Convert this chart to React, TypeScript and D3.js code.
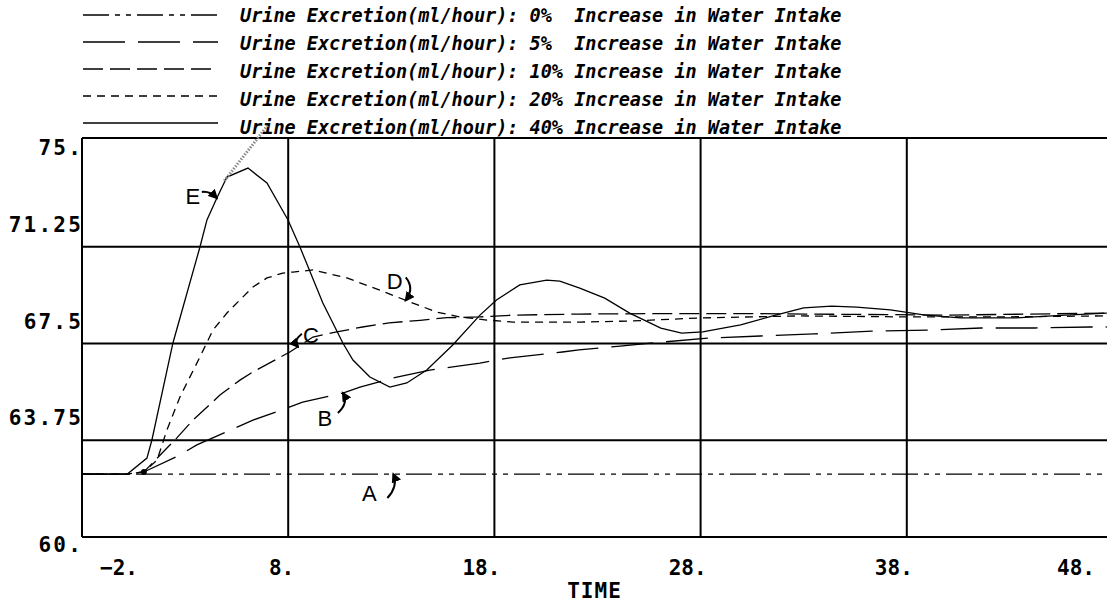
import React from 'react';
import * as d3 from 'd3';

// axis ticks as printed on the plot
const xTicks = [-2, 8, 18, 28, 38, 48];
const xTickLabels = ['−2.', '8.', '18.', '28.', '38.', '48.'];
const yTicks = [60, 63.75, 67.5, 71.25, 75];
const yTickLabels = ['60.', '63.75', '67.5', '71.25', '75.'];

// legend: one row per water-intake increase
const intakeLevels = ['0%  ', '5%  ', '10% ', '20% ', '40% '];
const curveLetters = ['A', 'B', 'C', 'D', 'E'];

// urine excretion (ml/hour) against time
const curveA: [number, number][] = [[-2, 62.44], [47.7, 62.44]];
const curveB: [number, number][] = [
  [-2, 62.44], [0.2, 62.44], [1.0, 62.52], [2.75, 63.18], [3.57, 63.57], [5.32, 64.19],
  [6.29, 64.53], [7.94, 65.0], [8.7, 65.23], [10.65, 65.58], [11.48, 65.81], [13.27, 66.2],
  [14.87, 66.47], [15.98, 66.59], [17.3, 66.74], [18.1, 66.86], [18.75, 66.94], [21.3, 67.17],
  [22.1, 67.25], [24.1, 67.4], [26.2, 67.56], [28.4, 67.71], [30.9, 67.79], [33.5, 67.87],
  [36.3, 67.98], [39.0, 68.02], [41.6, 68.1], [44.2, 68.1], [46.9, 68.14], [47.7, 68.14],
];
const curveC: [number, number][] = [
  [-2, 62.44], [0.2, 62.44], [1.0, 62.52], [2.12, 63.45], [2.6, 63.84], [3.38, 64.53],
  [4.69, 65.5], [5.66, 66.08], [6.29, 66.4], [8.08, 67.17], [9.2, 67.75], [10.36, 67.95],
  [11.6, 68.14], [12.9, 68.3], [14.4, 68.4], [15.7, 68.5], [17.3, 68.53], [18.9, 68.6],
  [22.1, 68.64], [26.0, 68.66], [30.0, 68.66], [35.0, 68.63], [40.0, 68.6], [44.0, 68.64],
  [47.7, 68.68],
];
const curveD: [number, number][] = [
  [-2, 62.44], [0.2, 62.44], [1.0, 62.52], [1.64, 62.98], [2.12, 64.15], [2.75, 65.43],
  [3.72, 66.98], [4.35, 68.02], [5.03, 68.68], [5.66, 69.19], [6.29, 69.69], [6.97, 70.04],
  [7.74, 70.23], [8.23, 70.27], [9.2, 70.35], [10.85, 70.04], [12.44, 69.57], [13.9, 69.11],
  [15.2, 68.72], [16.32, 68.53], [17.63, 68.41], [18.9, 68.33], [22.14, 68.33], [24.56, 68.37],
  [27.96, 68.49], [32.8, 68.57], [38.0, 68.53], [42.5, 68.53], [47.7, 68.57],
];
const curveE: [number, number][] = [
  [-2, 62.44], [0.2, 62.44], [1.15, 63.06], [1.39, 63.76], [2.41, 67.52], [3.72, 71.24],
  [4.06, 72.29], [4.54, 73.14], [5.03, 73.95], [6.05, 74.3], [6.97, 73.72], [7.99, 72.29],
  [8.57, 71.24], [9.68, 69.07], [10.65, 67.52], [11.14, 66.86], [11.96, 66.2], [12.93, 65.81],
  [13.75, 65.97], [14.72, 66.47], [15.98, 67.44], [17.3, 68.6], [18.1, 69.19], [19.23, 69.77],
  [20.54, 69.96], [21.17, 69.92], [22.14, 69.65], [23.35, 69.26], [24.56, 68.68], [26.07, 68.1],
  [27.08, 67.9], [28.1, 67.95], [29.94, 68.22], [31.64, 68.6], [33.0, 68.88], [34.35, 68.95],
  [35.57, 68.91], [37.2, 68.8], [38.9, 68.6], [40.6, 68.49], [43.2, 68.49], [45.7, 68.6],
  [47.7, 68.68],
];
// faint hatched stroke above E's first rise
const curveEOvershoot: [number, number][] = [[4.9, 73.8], [7.0, 75.95]];

// time where each letter's arrow touches its curve
const arrowTimes = [13.1, 10.65, 8.47, 13.7, 4.54];

const W = 1107;
const H = 604;
const frameTop = 138;
const monoFont = '"DejaVu Sans Mono", "Liberation Mono", monospace';

// dash patterns per curve, 0% .. 40%
const dashes = ['26,6,5,6,5,6', '42,13', '20,7', '8,6', null];

// label placement around each arrow tip: [labelDx, labelDy, startDx, startDy, ctrlDx, ctrlDy]
const arrowLayout = [
  [-24, 19, -6, 24, 5, 12],
  [-18, 25, -5, 20, 6, 10],
  [13, -11, 4, -13, -5, -6],
  [-11, -19, 0, -23, 9, -12],
  [-24, -1, -15, -6, -7, -7],
];

function valueAt(series: [number, number][], t: number) {
  const i = d3.bisector((d: [number, number]) => d[0]).left(series, t);
  if (i <= 0) return series[0][1];
  if (i >= series.length) return series[series.length - 1][1];
  const [t0, v0] = series[i - 1];
  const [t1, v1] = series[i];
  return v0 + ((v1 - v0) * (t - t0)) / (t1 - t0);
}

export default function App() {
  const x = d3.scaleLinear().domain([-2, 48]).range([82, 1113]);
  const y = d3.scaleLinear().domain([60, 75]).range([537, 150]);
  const line = d3
    .line<[number, number]>()
    .x((d) => x(d[0]))
    .y((d) => y(d[1]));

  const curves = [curveA, curveB, curveC, curveD, curveE];
  const left = x(-2);

  return (
    <svg
      width={W}
      height={H}
      style={{ position: 'absolute', left: 0, top: 0, background: '#fff' }}
    >
      <defs>
        <marker id="head" viewBox="0 0 10 10" refX="8" refY="5" markerWidth="5" markerHeight="5" orient="auto">
          <path d="M0,0 L10,5 L0,10 z" fill="#000" />
        </marker>
      </defs>
      <rect width={W} height={H} fill="#fff" />

      {/* legend */}
      {intakeLevels.map((lvl, i) => (
        <g key={lvl}>
          <line
            x1={83}
            x2={218}
            y1={15 + i * 27}
            y2={15 + i * 27}
            stroke="#000"
            strokeWidth={1.4}
            strokeDasharray={dashes[i] ?? undefined}
          />
          <text
            x={240}
            y={22 + i * 28}
            fontFamily={monoFont}
            fontSize={18.5}
            fontWeight="bold"
            fontStyle="italic"
            style={{ whiteSpace: 'pre' }}
            xmlSpace="preserve"
          >
            {`Urine Excretion(ml/hour): ${lvl}Increase in Water Intake`}
          </text>
        </g>
      ))}

      {/* frame and grid */}
      <g stroke="#000" strokeWidth={2}>
        <line x1={left} x2={W} y1={frameTop} y2={frameTop} />
        <line x1={left} x2={W} y1={y(60)} y2={y(60)} />
        <line x1={left} x2={left} y1={frameTop} y2={y(60)} />
        {xTicks.slice(1, -1).map((t) => (
          <line key={t} x1={x(t)} x2={x(t)} y1={frameTop} y2={y(60)} />
        ))}
        {yTicks.slice(1, -1).map((v) => (
          <line key={v} x1={left} x2={W} y1={y(v)} y2={y(v)} />
        ))}
      </g>

      {/* y tick labels */}
      {yTicks.map((v, i) => {
        const last = i === yTicks.length - 1;
        const dy = i === 0 ? 15 : last ? 5 : -15;
        return (
          <text
            key={v}
            x={left + 1}
            y={y(v) + dy}
            textAnchor="end"
            fontFamily={monoFont}
            fontWeight="bold"
            fontSize={21}
            letterSpacing={2.2}
          >
            {yTickLabels[i]}
          </text>
        );
      })}

      {/* x tick labels */}
      {xTicks.map((t, i) => {
        const end = Math.min(Math.max(x(t) + 6, left + 56), W - 12);
        return (
          <text
            key={t}
            x={end}
            y={575}
            textAnchor="end"
            fontFamily={monoFont}
            fontWeight="bold"
            fontSize={21}
          >
            {xTickLabels[i]}
          </text>
        );
      })}
      <text
        x={(x(-2) + x(48)) / 2 - 3}
        y={598}
        textAnchor="middle"
        fontFamily={monoFont}
        fontWeight="bold"
        fontSize={21}
        letterSpacing={1}
      >
        TIME
      </text>

      {/* curves */}
      {curves.map((c, i) => (
        <path
          key={i}
          d={line(c) ?? ''}
          fill="none"
          stroke="#000"
          strokeWidth={1.3}
          strokeDasharray={dashes[i] ?? undefined}
        />
      ))}
      <path
        d={line(curveEOvershoot) ?? ''}
        fill="none"
        stroke="#888"
        strokeWidth={3}
        strokeDasharray="1.5,1.5"
      />
      <circle cx={x(curveB[2][0])} cy={y(curveB[2][1])} r={3} fill="#000" />

      {/* letter annotations */}
      {curveLetters.map((letter, i) => {
        const t = arrowTimes[i];
        const tx = x(t);
        const ty = y(valueAt(curves[i], t));
        const [lx, ly, sx, sy, cx, cy] = arrowLayout[i];
        return (
          <g key={letter}>
            <text
              x={tx + lx}
              y={ty + ly}
              textAnchor="middle"
              dominantBaseline="central"
              fontFamily='"Liberation Sans", Arial, sans-serif'
              fontSize={22}
            >
              {letter}
            </text>
            <path
              d={`M${tx + sx},${ty + sy} Q${tx + cx},${ty + cy} ${tx},${ty}`}
              fill="none"
              stroke="#000"
              strokeWidth={2}
              markerEnd="url(#head)"
            />
          </g>
        );
      })}
    </svg>
  );
}
